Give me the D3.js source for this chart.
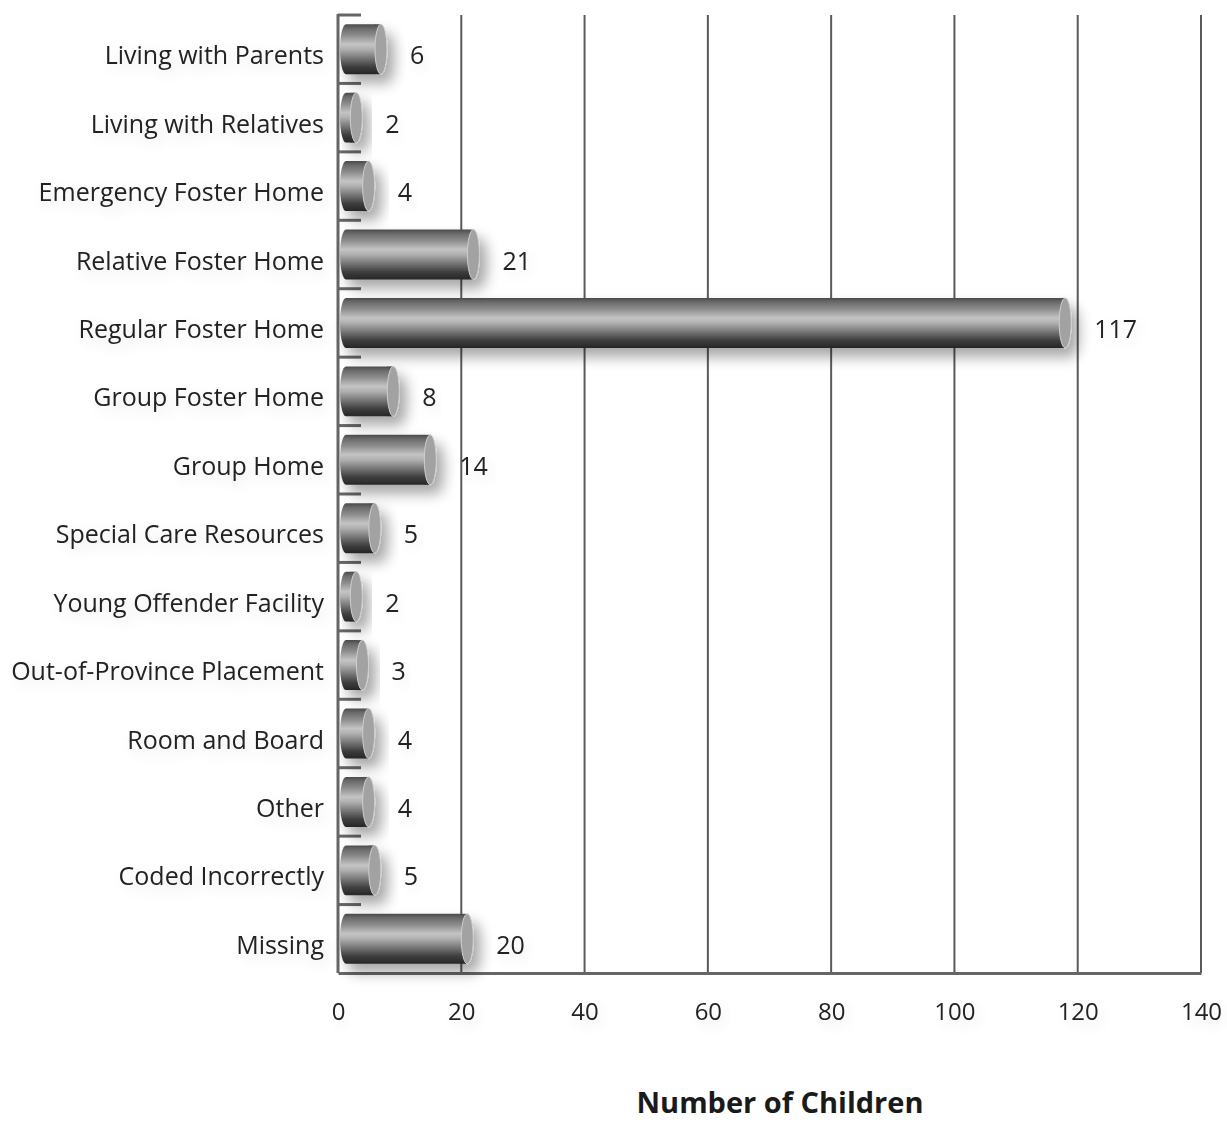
<!DOCTYPE html>
<html>
<head>
<meta charset="utf-8">
<script src="https://cdn.jsdelivr.net/npm/d3@7"></script>
<style>
  html, body { margin: 0; padding: 0; background: #fff; }
  svg { display: block; font-family: "Open Sans", Lato, sans-serif; }
</style>
</head>
<body>
<svg id="chart" width="1227" height="1122"></svg>
<script>
// Placement types and number of children in each
const categories = [
  "Living with Parents",
  "Living with Relatives",
  "Emergency Foster Home",
  "Relative Foster Home",
  "Regular Foster Home",
  "Group Foster Home",
  "Group Home",
  "Special Care Resources",
  "Young Offender Facility",
  "Out-of-Province Placement",
  "Room and Board",
  "Other",
  "Coded Incorrectly",
  "Missing"
];
const counts = [6, 2, 4, 21, 117, 8, 14, 5, 2, 3, 4, 4, 5, 20];
const xTicks = [0, 20, 40, 60, 80, 100, 120, 140];
const xTitle = "Number of Children";

const svg = d3.select("#chart");
const plotLeft = 338, plotRight = 1201, plotTop = 15, plotBottom = 973;
const labelFont = "\"Open Sans\", Lato, sans-serif";

const x = d3.scaleLinear().domain([0, 140]).range([plotLeft, plotRight]);
const y = d3.scaleBand().domain(categories).range([plotTop, plotBottom])
  .paddingInner(0.27).paddingOuter(0.135);

const defs = svg.append("defs");

// cylinder shading, top to bottom
const grad = defs.append("linearGradient")
  .attr("id", "cyl").attr("x1", 0).attr("y1", 0).attr("x2", 0).attr("y2", 1);
[[0, "#4a4a4a"], [0.08, "#6a6a6a"], [0.22, "#8c8c8c"], [0.4, "#c4c4c4"],
 [0.5, "#b0b0b0"], [0.66, "#7c7c7c"], [0.85, "#3e3e3e"], [1, "#262626"]]
  .forEach(([o, c]) => grad.append("stop").attr("offset", o).attr("stop-color", c));

// soft drop shadow under each bar
const sh = defs.append("filter").attr("id", "shadow")
  .attr("x", "-20%").attr("y", "-60%").attr("width", "160%").attr("height", "260%");
sh.append("feGaussianBlur").attr("in", "SourceAlpha").attr("stdDeviation", 7).attr("result", "b");
sh.append("feOffset").attr("dx", 7).attr("dy", 9).attr("result", "o");
sh.append("feComponentTransfer").append("feFuncA").attr("type", "linear").attr("slope", 0.35);
const m = sh.append("feMerge");
m.append("feMergeNode");
m.append("feMergeNode").attr("in", "SourceGraphic");

// faint halo behind text
const th = defs.append("filter").attr("id", "textShadow")
  .attr("x", "-30%").attr("y", "-60%").attr("width", "160%").attr("height", "220%");
th.append("feGaussianBlur").attr("in", "SourceAlpha").attr("stdDeviation", 8).attr("result", "b");
th.append("feOffset").attr("dx", 4).attr("dy", 5).attr("result", "o");
th.append("feComponentTransfer").append("feFuncA").attr("type", "linear").attr("slope", 0.12);
const m2 = th.append("feMerge");
m2.append("feMergeNode");
m2.append("feMergeNode").attr("in", "SourceGraphic");

// vertical gridlines
svg.append("g").selectAll("line").data(xTicks.slice(1))
  .join("line")
  .attr("x1", d => x(d)).attr("x2", d => x(d))
  .attr("y1", plotTop).attr("y2", plotBottom)
  .attr("stroke", "#5a5a5a").attr("stroke-width", 2);

// left axis with inward ticks at category boundaries
svg.append("line").attr("x1", plotLeft).attr("x2", plotLeft).attr("y1", plotTop - 1).attr("y2", plotBottom)
  .attr("stroke", "#666").attr("stroke-width", 3);
svg.append("g").selectAll("line").data(categories)
  .join("line")
  .attr("x1", plotLeft).attr("x2", plotLeft + 23)
  .attr("y1", d => y(d) - y.step() * 0.135).attr("y2", d => y(d) - y.step() * 0.135)
  .attr("stroke", "#666").attr("stroke-width", 3);

// bottom axis
const xAxis = d3.axisBottom(x).tickValues(xTicks).tickSize(0).tickPadding(30);
const gx = svg.append("g").attr("transform", `translate(0,${plotBottom})`).call(xAxis);
gx.select(".domain").attr("stroke", "#666").attr("stroke-width", 3);
gx.selectAll("text").attr("font-size", 24).attr("fill", "#222")
  .attr("font-family", labelFont).attr("filter", "url(#textShadow)");

// cylinder bars
const capR = 6;
const bars = svg.append("g").selectAll("g").data(categories).join("g")
  .attr("filter", "url(#shadow)");
bars.append("rect")
  .attr("x", x(0) + 2)
  .attr("y", d => y(d))
  .attr("width", (d, i) => x(counts[i]) - x(0) + capR - 2)
  .attr("height", y.bandwidth())
  .attr("rx", capR).attr("ry", y.bandwidth() / 2)
  .attr("fill", "url(#cyl)");
bars.append("rect")
  .attr("x", (d, i) => x(counts[i]))
  .attr("y", d => y(d))
  .attr("width", capR)
  .attr("height", y.bandwidth())
  .attr("fill", "url(#cyl)");
bars.append("ellipse")
  .attr("cx", (d, i) => x(counts[i]) + capR)
  .attr("cy", d => y(d) + y.bandwidth() / 2)
  .attr("rx", capR).attr("ry", y.bandwidth() / 2)
  .attr("fill", "#a2a2a2").attr("stroke", "#d0d0d0").attr("stroke-width", 1);

// category labels
svg.append("g").selectAll("text").data(categories).join("text")
  .attr("x", plotLeft - 14)
  .attr("y", d => y(d) + y.bandwidth() / 2 + 15)
  .attr("text-anchor", "end")
  .attr("font-size", 25).attr("fill", "#222")
  .attr("font-family", labelFont)
  .attr("filter", "url(#textShadow)")
  .text(d => d);

// value labels
svg.append("g").selectAll("text").data(categories).join("text")
  .attr("x", (d, i) => x(counts[i]) + 35)
  .attr("y", d => y(d) + y.bandwidth() / 2 + 15)
  .attr("font-size", 25).attr("fill", "#222")
  .attr("font-family", labelFont)
  .attr("filter", "url(#textShadow)")
  .text((d, i) => counts[i]);

// axis title
svg.append("text")
  .attr("x", 780).attr("y", 1113)
  .attr("text-anchor", "middle")
  .attr("font-size", 29).attr("font-weight", "bold").attr("fill", "#1a1a1a")
  .attr("font-family", labelFont)
  .text(xTitle);
</script>
</body>
</html>
